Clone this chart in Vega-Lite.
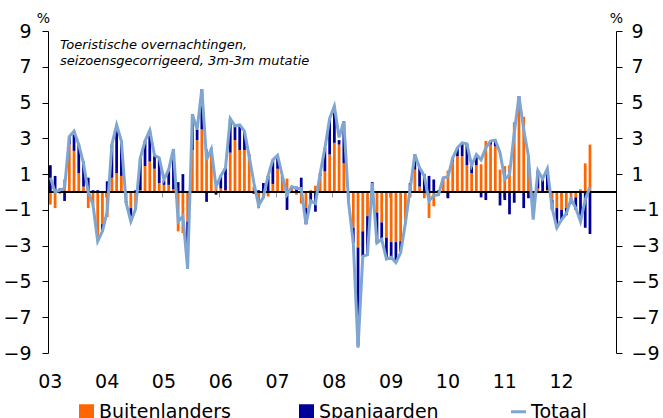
{
  "$schema": "https://vega.github.io/schema/vega-lite/v6.json",
  "autosize": {"type": "none"},
  "padding": {"left": 48, "top": 31, "right": 47, "bottom": 65},
  "width": 568,
  "height": 322,
  "background": "white",
  "title": {
    "text": ["Toeristische overnachtingen,", "seizoensgecorrigeerd, 3m-3m mutatie"],
    "anchor": "start", "frame": "group", "orient": "top", "baseline": "top",
    "offset": -57, "dx": 12, "font": "DejaVu Sans", "fontSize": 13, "fontStyle": "italic",
    "fontWeight": "normal", "color": "#000000", "lineHeight": 16
  },
  "data": {"values": [
    {"m":"2003-01","Buitenlanders":-0.7,"Spanjaarden":1.5,"Totaal":0.8},
    {"m":"2003-02","Buitenlanders":-0.9,"Spanjaarden":0.9,"Totaal":0.0},
    {"m":"2003-03","Buitenlanders":-0.1,"Spanjaarden":0.2,"Totaal":0.1},
    {"m":"2003-04","Buitenlanders":0.7,"Spanjaarden":-0.5,"Totaal":0.2},
    {"m":"2003-05","Buitenlanders":2.65,"Spanjaarden":0.45,"Totaal":3.1},
    {"m":"2003-06","Buitenlanders":2.3,"Spanjaarden":1.1,"Totaal":3.4},
    {"m":"2003-07","Buitenlanders":1.05,"Spanjaarden":1.6,"Totaal":2.65},
    {"m":"2003-08","Buitenlanders":0.3,"Spanjaarden":1.4,"Totaal":1.6},
    {"m":"2003-09","Buitenlanders":-0.9,"Spanjaarden":0.8,"Totaal":0.0},
    {"m":"2003-10","Buitenlanders":-0.7,"Spanjaarden":0.1,"Totaal":-0.7},
    {"m":"2003-11","Buitenlanders":-2.75,"Spanjaarden":0.1,"Totaal":-2.75},
    {"m":"2003-12","Buitenlanders":-1.8,"Spanjaarden":-0.4,"Totaal":-2.2},
    {"m":"2004-01","Buitenlanders":-1.4,"Spanjaarden":0.6,"Totaal":-1.1},
    {"m":"2004-02","Buitenlanders":0.8,"Spanjaarden":1.85,"Totaal":2.65},
    {"m":"2004-03","Buitenlanders":1.05,"Spanjaarden":2.7,"Totaal":3.75},
    {"m":"2004-04","Buitenlanders":0.9,"Spanjaarden":1.95,"Totaal":2.85},
    {"m":"2004-05","Buitenlanders":-0.5,"Spanjaarden":-0.1,"Totaal":-0.6},
    {"m":"2004-06","Buitenlanders":-0.9,"Spanjaarden":-0.7,"Totaal":-1.65},
    {"m":"2004-07","Buitenlanders":-1.0,"Spanjaarden":0.1,"Totaal":-0.95},
    {"m":"2004-08","Buitenlanders":0.1,"Spanjaarden":1.8,"Totaal":1.9},
    {"m":"2004-09","Buitenlanders":1.45,"Spanjaarden":1.4,"Totaal":2.85},
    {"m":"2004-10","Buitenlanders":1.7,"Spanjaarden":1.75,"Totaal":3.45},
    {"m":"2004-11","Buitenlanders":1.3,"Spanjaarden":0.75,"Totaal":2.05},
    {"m":"2004-12","Buitenlanders":0.5,"Spanjaarden":1.35,"Totaal":1.9},
    {"m":"2005-01","Buitenlanders":0.4,"Spanjaarden":0.25,"Totaal":0.7},
    {"m":"2005-02","Buitenlanders":0.4,"Spanjaarden":0.85,"Totaal":1.25},
    {"m":"2005-03","Buitenlanders":0.15,"Spanjaarden":2.25,"Totaal":2.4},
    {"m":"2005-04","Buitenlanders":-2.2,"Spanjaarden":0.55,"Totaal":-1.65},
    {"m":"2005-05","Buitenlanders":-2.3,"Spanjaarden":1.0,"Totaal":-1.35},
    {"m":"2005-06","Buitenlanders":-1.65,"Spanjaarden":-2.6,"Totaal":-4.3},
    {"m":"2005-07","Buitenlanders":2.35,"Spanjaarden":2.0,"Totaal":4.35},
    {"m":"2005-08","Buitenlanders":2.9,"Spanjaarden":0.6,"Totaal":3.5},
    {"m":"2005-09","Buitenlanders":3.5,"Spanjaarden":2.25,"Totaal":5.75},
    {"m":"2005-10","Buitenlanders":2.4,"Spanjaarden":-0.55,"Totaal":1.8},
    {"m":"2005-11","Buitenlanders":2.4,"Spanjaarden":0.05,"Totaal":2.4},
    {"m":"2005-12","Buitenlanders":0.3,"Spanjaarden":-0.15,"Totaal":0.3},
    {"m":"2006-01","Buitenlanders":0.2,"Spanjaarden":0.7,"Totaal":0.9},
    {"m":"2006-02","Buitenlanders":0.1,"Spanjaarden":1.25,"Totaal":1.35},
    {"m":"2006-03","Buitenlanders":2.2,"Spanjaarden":1.9,"Totaal":4.1},
    {"m":"2006-04","Buitenlanders":2.9,"Spanjaarden":0.8,"Totaal":3.7},
    {"m":"2006-05","Buitenlanders":2.35,"Spanjaarden":1.4,"Totaal":3.75},
    {"m":"2006-06","Buitenlanders":2.35,"Spanjaarden":1.05,"Totaal":3.4},
    {"m":"2006-07","Buitenlanders":2.0,"Spanjaarden":0.1,"Totaal":2.0},
    {"m":"2006-08","Buitenlanders":0.3,"Spanjaarden":-0.1,"Totaal":0.5},
    {"m":"2006-09","Buitenlanders":-0.9,"Spanjaarden":0.1,"Totaal":-0.75},
    {"m":"2006-10","Buitenlanders":-0.3,"Spanjaarden":0.5,"Totaal":-0.3},
    {"m":"2006-11","Buitenlanders":-0.25,"Spanjaarden":0.9,"Totaal":0.9},
    {"m":"2006-12","Buitenlanders":0.45,"Spanjaarden":1.35,"Totaal":1.8},
    {"m":"2007-01","Buitenlanders":1.3,"Spanjaarden":0.75,"Totaal":2.05},
    {"m":"2007-02","Buitenlanders":0.75,"Spanjaarden":0.15,"Totaal":0.9},
    {"m":"2007-03","Buitenlanders":0.75,"Spanjaarden":-1.0,"Totaal":-0.15},
    {"m":"2007-04","Buitenlanders":0.2,"Spanjaarden":0.1,"Totaal":0.3},
    {"m":"2007-05","Buitenlanders":-0.15,"Spanjaarden":0.3,"Totaal":0.2},
    {"m":"2007-06","Buitenlanders":-0.65,"Spanjaarden":0.8,"Totaal":0.2},
    {"m":"2007-07","Buitenlanders":-0.9,"Spanjaarden":-0.9,"Totaal":-1.8},
    {"m":"2007-08","Buitenlanders":0.1,"Spanjaarden":-0.5,"Totaal":-0.5},
    {"m":"2007-09","Buitenlanders":0.35,"Spanjaarden":-1.1,"Totaal":-0.65},
    {"m":"2007-10","Buitenlanders":0.9,"Spanjaarden":0.15,"Totaal":1.05},
    {"m":"2007-11","Buitenlanders":1.15,"Spanjaarden":1.3,"Totaal":2.45},
    {"m":"2007-12","Buitenlanders":2.1,"Spanjaarden":2.0,"Totaal":4.1},
    {"m":"2008-01","Buitenlanders":2.75,"Spanjaarden":2.05,"Totaal":4.8},
    {"m":"2008-02","Buitenlanders":2.65,"Spanjaarden":0.25,"Totaal":3.05},
    {"m":"2008-03","Buitenlanders":1.6,"Spanjaarden":2.35,"Totaal":3.95},
    {"m":"2008-04","Buitenlanders":-0.5,"Spanjaarden":-0.1,"Totaal":-0.6},
    {"m":"2008-05","Buitenlanders":-2.0,"Spanjaarden":-0.85,"Totaal":-2.85},
    {"m":"2008-06","Buitenlanders":-3.1,"Spanjaarden":-5.5,"Totaal":-8.7},
    {"m":"2008-07","Buitenlanders":-2.2,"Spanjaarden":-1.4,"Totaal":-3.6},
    {"m":"2008-08","Buitenlanders":-1.35,"Spanjaarden":-2.15,"Totaal":-3.5},
    {"m":"2008-09","Buitenlanders":-0.05,"Spanjaarden":0.55,"Totaal":0.5},
    {"m":"2008-10","Buitenlanders":-1.15,"Spanjaarden":-1.7,"Totaal":-2.85},
    {"m":"2008-11","Buitenlanders":-1.7,"Spanjaarden":-0.95,"Totaal":-2.65},
    {"m":"2008-12","Buitenlanders":-2.55,"Spanjaarden":-1.2,"Totaal":-3.75},
    {"m":"2009-01","Buitenlanders":-2.8,"Spanjaarden":-0.85,"Totaal":-3.65},
    {"m":"2009-02","Buitenlanders":-2.8,"Spanjaarden":-1.0,"Totaal":-3.95},
    {"m":"2009-03","Buitenlanders":-2.75,"Spanjaarden":-0.6,"Totaal":-3.4},
    {"m":"2009-04","Buitenlanders":-1.7,"Spanjaarden":-0.05,"Totaal":-1.75},
    {"m":"2009-05","Buitenlanders":-0.3,"Spanjaarden":0.5,"Totaal":0.15},
    {"m":"2009-06","Buitenlanders":1.25,"Spanjaarden":0.85,"Totaal":2.1},
    {"m":"2009-07","Buitenlanders":0.3,"Spanjaarden":1.1,"Totaal":1.35},
    {"m":"2009-08","Buitenlanders":-0.35,"Spanjaarden":1.0,"Totaal":0.9},
    {"m":"2009-09","Buitenlanders":-1.45,"Spanjaarden":0.9,"Totaal":-0.5},
    {"m":"2009-10","Buitenlanders":-0.8,"Spanjaarden":0.7,"Totaal":-0.2},
    {"m":"2009-11","Buitenlanders":-0.1,"Spanjaarden":0.1,"Totaal":-0.15},
    {"m":"2009-12","Buitenlanders":0.8,"Spanjaarden":0.0,"Totaal":0.8},
    {"m":"2010-01","Buitenlanders":1.2,"Spanjaarden":-0.35,"Totaal":0.85},
    {"m":"2010-02","Buitenlanders":1.7,"Spanjaarden":0.2,"Totaal":1.9},
    {"m":"2010-03","Buitenlanders":2.0,"Spanjaarden":0.47,"Totaal":2.47},
    {"m":"2010-04","Buitenlanders":2.0,"Spanjaarden":0.75,"Totaal":2.75},
    {"m":"2010-05","Buitenlanders":1.5,"Spanjaarden":1.2,"Totaal":2.7},
    {"m":"2010-06","Buitenlanders":1.05,"Spanjaarden":0.45,"Totaal":1.48},
    {"m":"2010-07","Buitenlanders":1.5,"Spanjaarden":0.6,"Totaal":2.1},
    {"m":"2010-08","Buitenlanders":1.55,"Spanjaarden":-0.3,"Totaal":1.8},
    {"m":"2010-09","Buitenlanders":2.85,"Spanjaarden":-0.45,"Totaal":2.47},
    {"m":"2010-10","Buitenlanders":2.65,"Spanjaarden":0.2,"Totaal":2.85},
    {"m":"2010-11","Buitenlanders":2.55,"Spanjaarden":0.35,"Totaal":2.9},
    {"m":"2010-12","Buitenlanders":1.25,"Spanjaarden":-0.75,"Totaal":2.2},
    {"m":"2011-01","Buitenlanders":1.45,"Spanjaarden":-0.45,"Totaal":0.7},
    {"m":"2011-02","Buitenlanders":1.5,"Spanjaarden":-1.25,"Totaal":0.97},
    {"m":"2011-03","Buitenlanders":3.9,"Spanjaarden":-0.6,"Totaal":3.3},
    {"m":"2011-04","Buitenlanders":4.8,"Spanjaarden":0.55,"Totaal":5.36},
    {"m":"2011-05","Buitenlanders":4.2,"Spanjaarden":-0.9,"Totaal":3.5},
    {"m":"2011-06","Buitenlanders":2.0,"Spanjaarden":-0.35,"Totaal":2.0},
    {"m":"2011-07","Buitenlanders":-0.5,"Spanjaarden":-0.4,"Totaal":-1.55},
    {"m":"2011-08","Buitenlanders":0.2,"Spanjaarden":1.0,"Totaal":1.2},
    {"m":"2011-09","Buitenlanders":0.0,"Spanjaarden":0.7,"Totaal":0.73},
    {"m":"2011-10","Buitenlanders":0.1,"Spanjaarden":1.2,"Totaal":1.3},
    {"m":"2011-11","Buitenlanders":-0.45,"Spanjaarden":-0.55,"Totaal":-0.9},
    {"m":"2011-12","Buitenlanders":-0.9,"Spanjaarden":-1.1,"Totaal":-2.0},
    {"m":"2012-01","Buitenlanders":-1.0,"Spanjaarden":-0.55,"Totaal":-1.55},
    {"m":"2012-02","Buitenlanders":-0.9,"Spanjaarden":-0.4,"Totaal":-1.2},
    {"m":"2012-03","Buitenlanders":-0.35,"Spanjaarden":-0.3,"Totaal":-0.4},
    {"m":"2012-04","Buitenlanders":-0.3,"Spanjaarden":-0.7,"Totaal":-0.9},
    {"m":"2012-05","Buitenlanders":0.15,"Spanjaarden":-1.65,"Totaal":-1.65},
    {"m":"2012-06","Buitenlanders":1.6,"Spanjaarden":-2.0,"Totaal":-0.43},
    {"m":"2012-07","Buitenlanders":2.65,"Spanjaarden":-2.35,"Totaal":0.28}
  ]},
  "resolve": {"scale": {"y": "shared", "x": "shared", "color": "shared"}, "axis": {"y": "independent", "x": "independent"}},
  "layer": [
    {
      "transform": [{"fold": ["Buitenlanders", "Spanjaarden"], "as": ["serie", "waarde"]}],
      "mark": {"type": "bar"},
      "encoding": {
        "x": {
          "field": "m", "type": "ordinal",
          "scale": {
            "domain": ["2003-01","2003-02","2003-03","2003-04","2003-05","2003-06","2003-07","2003-08","2003-09","2003-10","2003-11","2003-12",
                       "2004-01","2004-02","2004-03","2004-04","2004-05","2004-06","2004-07","2004-08","2004-09","2004-10","2004-11","2004-12",
                       "2005-01","2005-02","2005-03","2005-04","2005-05","2005-06","2005-07","2005-08","2005-09","2005-10","2005-11","2005-12",
                       "2006-01","2006-02","2006-03","2006-04","2006-05","2006-06","2006-07","2006-08","2006-09","2006-10","2006-11","2006-12",
                       "2007-01","2007-02","2007-03","2007-04","2007-05","2007-06","2007-07","2007-08","2007-09","2007-10","2007-11","2007-12",
                       "2008-01","2008-02","2008-03","2008-04","2008-05","2008-06","2008-07","2008-08","2008-09","2008-10","2008-11","2008-12",
                       "2009-01","2009-02","2009-03","2009-04","2009-05","2009-06","2009-07","2009-08","2009-09","2009-10","2009-11","2009-12",
                       "2010-01","2010-02","2010-03","2010-04","2010-05","2010-06","2010-07","2010-08","2010-09","2010-10","2010-11","2010-12",
                       "2011-01","2011-02","2011-03","2011-04","2011-05","2011-06","2011-07","2011-08","2011-09","2011-10","2011-11","2011-12",
                       "2012-01","2012-02","2012-03","2012-04","2012-05","2012-06","2012-07","2012-08","2012-09","2012-10","2012-11","2012-12"],
            "paddingInner": 0.42, "paddingOuter": 0.21
          },
          "axis": {
            "orient": "bottom", "title": null, "domain": false, "ticks": false,
            "values": ["2003-01","2004-01","2005-01","2006-01","2007-01","2008-01","2009-01","2010-01","2011-01","2012-01"],
            "labelExpr": "slice(datum.value, 2, 4)", "labelAngle": 0, "labelPadding": 19,
            "labelFont": "DejaVu Sans", "labelFontSize": 19, "labelColor": "#000000"
          }
        },
        "y": {
          "field": "waarde", "type": "quantitative", "stack": "zero",
          "scale": {"domain": [-9, 9], "nice": false},
          "axis": {
            "orient": "left", "values": [-9, -7, -5, -3, -1, 1, 3, 5, 7, 9], "grid": false,
            "domain": true, "domainColor": "#000000", "domainWidth": 1,
            "ticks": true, "tickColor": "#000000", "tickSize": 6,
            "labelFont": "DejaVu Sans", "labelFontSize": 19, "labelColor": "#000000", "labelPadding": 11,
            "title": "%", "titleAngle": 0, "titleX": -5, "titleY": -13, "titleAlign": "center", "titleBaseline": "middle",
            "titleFont": "DejaVu Sans", "titleFontSize": 14, "titleFontWeight": "normal", "titleColor": "#000000"
          }
        },
        "color": {
          "field": "serie", "type": "nominal",
          "scale": {"domain": ["Buitenlanders", "Spanjaarden", "Totaal"], "range": ["#FF6600", "#000099", "#7FA6D1"]},
          "legend": {
            "orient": "none", "legendX": 29, "legendY": 371, "direction": "horizontal", "columns": 3,
            "title": null, "columnPadding": 66, "labelFont": "DejaVu Sans", "labelFontSize": 19, "labelColor": "#000000",
            "labelOffset": 3, "symbolSize": 225, "symbolStrokeWidth": 3,
            "encode": {
              "symbols": {"update": {
                "shape": {"signal": "datum.value === 'Totaal' ? 'stroke' : 'square'"},
                "fill": {"signal": "datum.value === 'Totaal' ? 'transparent' : scale('color', datum.value)"},
                "stroke": {"signal": "scale('color', datum.value)"},
                "strokeWidth": {"signal": "datum.value === 'Totaal' ? 3 : 0"},
                "opacity": {"value": 1}
              }}
            }
          }
        },
        "order": {"field": "serie", "sort": "ascending"}
      }
    },
    {
      "mark": {"type": "rule", "color": "#000000", "strokeWidth": 1.5},
      "encoding": {"y": {"datum": 0, "type": "quantitative", "axis": null}}
    },
    {
      "mark": {"type": "line", "strokeWidth": 3, "interpolate": "linear"},
      "encoding": {
        "x": {
          "field": "m", "type": "ordinal",
          "axis": {
            "orient": "bottom", "offset": -161, "title": null, "domain": false, "labels": false,
            "ticks": true, "tickColor": "#999999", "tickSize": 5, "bandPosition": 0,
            "values": ["2004-01","2005-01","2006-01","2007-01","2008-01","2009-01","2010-01","2011-01","2012-01"]
          }
        },
        "y": {
          "field": "Totaal", "type": "quantitative",
          "axis": {
            "orient": "right", "values": [-9, -7, -5, -3, -1, 1, 3, 5, 7, 9], "grid": false,
            "domain": true, "domainColor": "#000000", "domainWidth": 1,
            "ticks": true, "tickColor": "#000000", "tickSize": 6,
            "labelFont": "DejaVu Sans", "labelFontSize": 19, "labelColor": "#000000", "labelPadding": 9,
            "title": "%", "titleAngle": 0, "titleX": 0, "titleY": -13, "titleAlign": "center", "titleBaseline": "middle",
            "titleFont": "DejaVu Sans", "titleFontSize": 14, "titleFontWeight": "normal", "titleColor": "#000000"
          }
        },
        "color": {"datum": "Totaal", "type": "nominal"}
      }
    }
  ],
  "config": {"view": {"stroke": null}}
}
